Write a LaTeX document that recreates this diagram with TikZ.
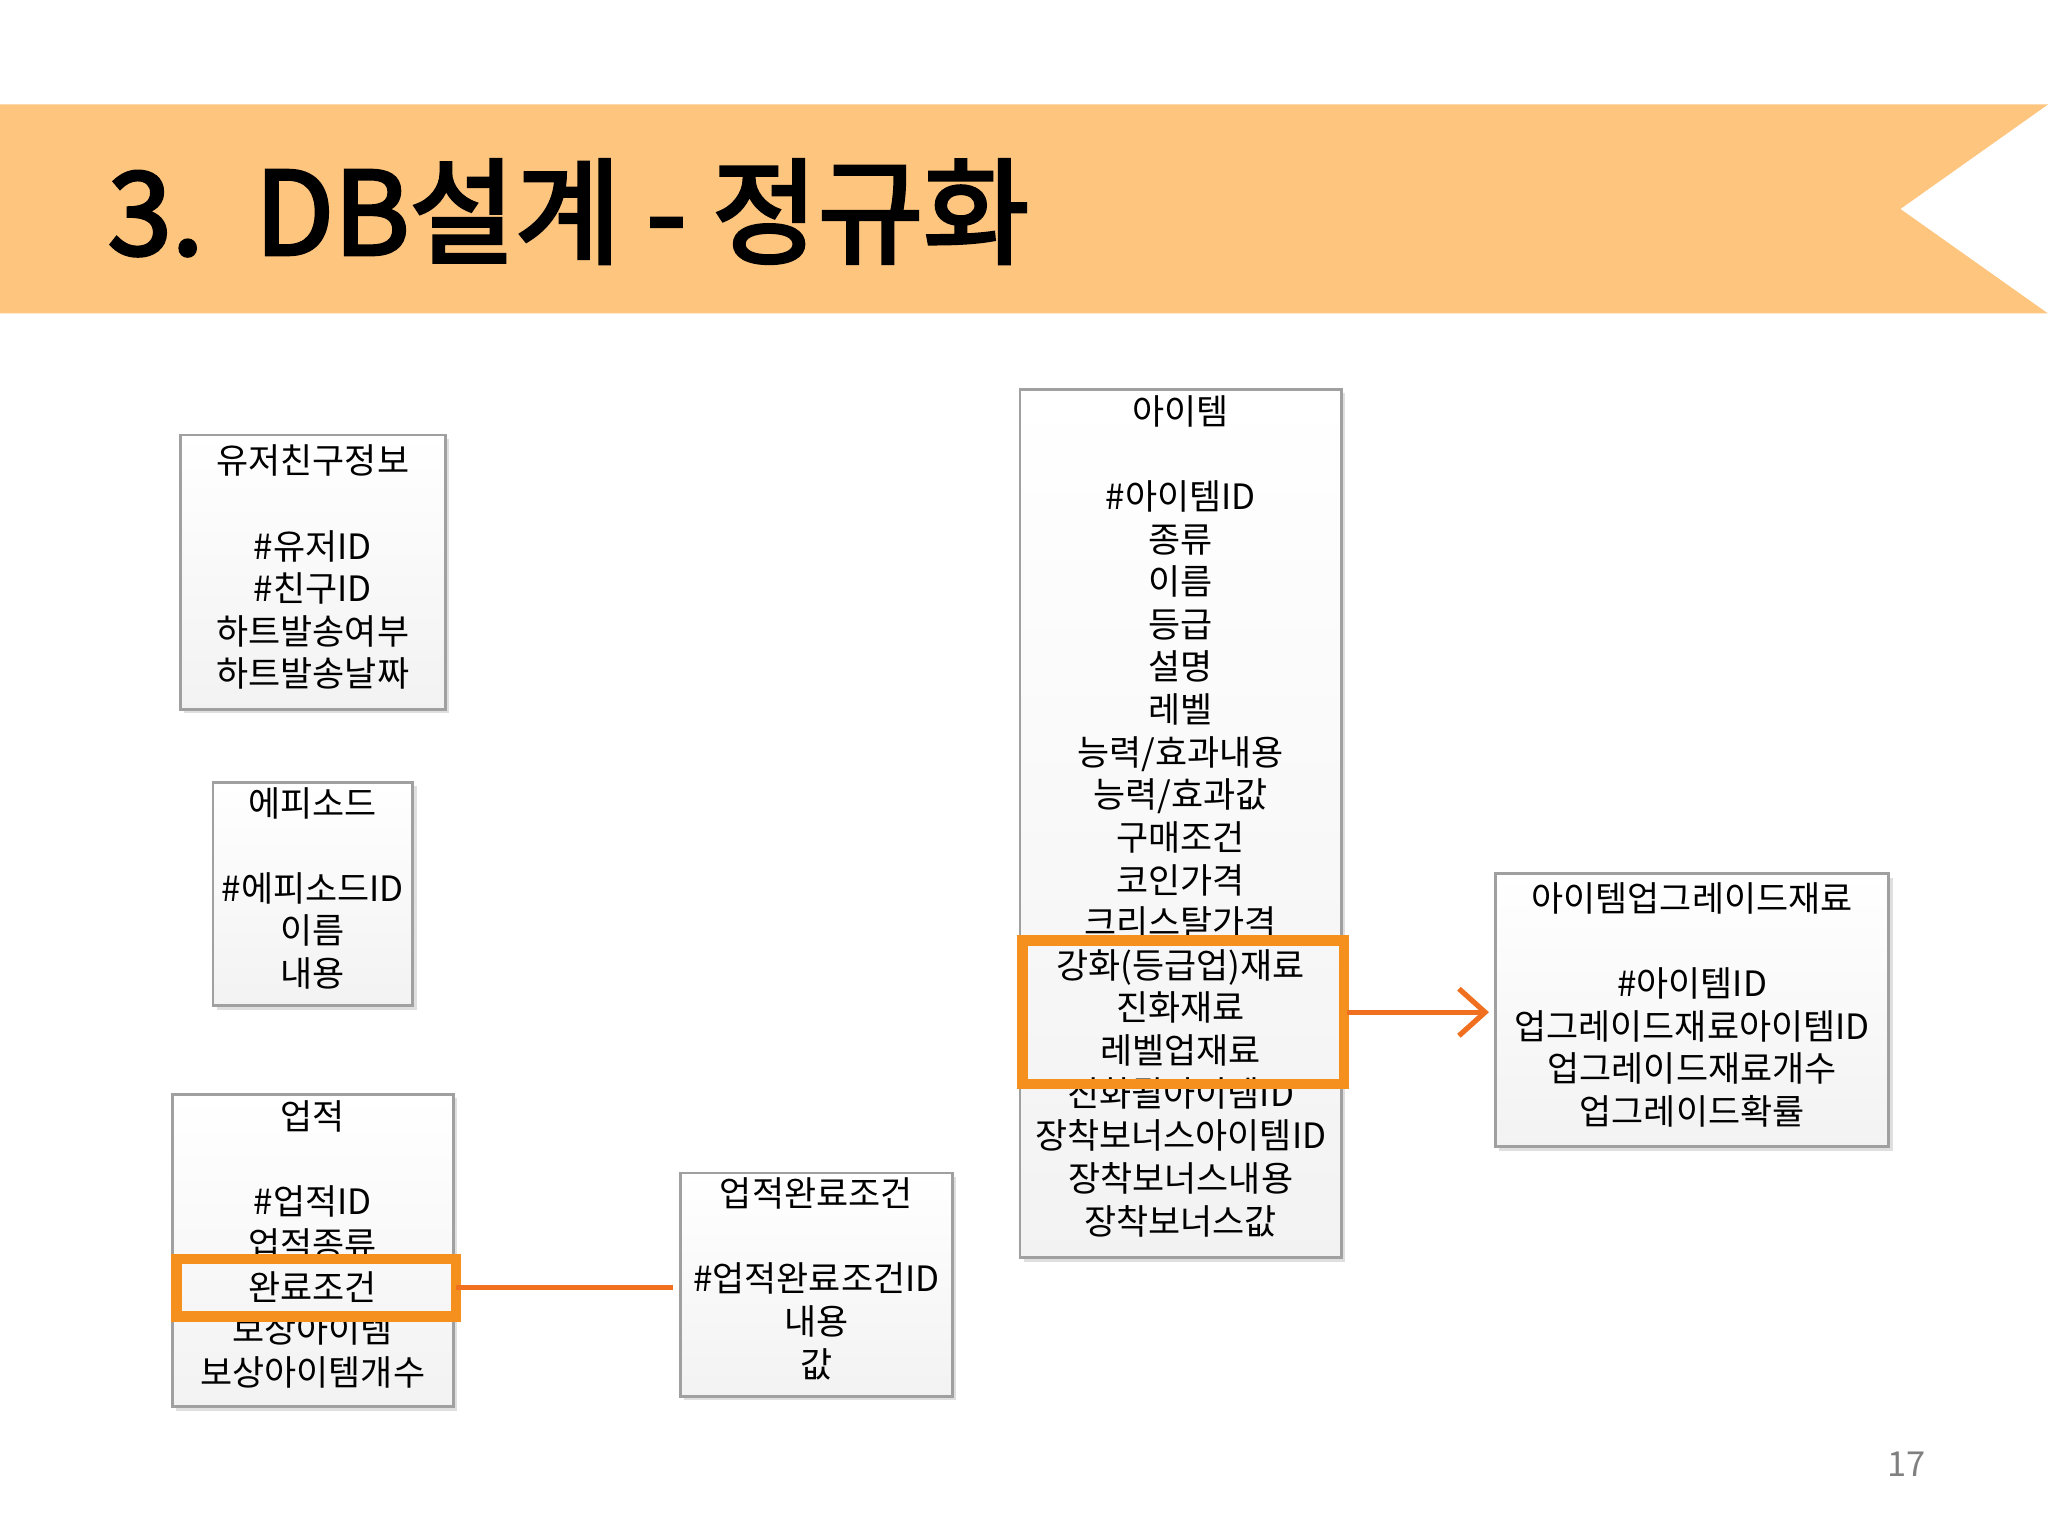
\documentclass[tikz,border=0pt]{standalone}
\usepackage{fontspec}
\usetikzlibrary{arrows.meta}
\setmainfont{Noto Sans CJK KR}
\newfontfamily\krb[FakeBold=3]{Noto Sans CJK KR}
\definecolor{banner}{HTML}{FDC57E}
\definecolor{hl}{HTML}{F5901E}
\definecolor{arr}{HTML}{F07020}
\definecolor{bord}{HTML}{A0A0A0}
\begin{document}
\begin{tikzpicture}[x=0.01cm,y=-0.01cm,
  dbox/.style={draw=bord,line width=0.6pt,top color=white,bottom color=gray!10},
  dtext/.style={anchor=north,inner sep=0pt,align=center,font=\fontsize{7.6}{9.28}\selectfont},
  hlbox/.style={draw=hl,line width=0.08cm},
  shadowc/.style={fill=gray!25}]
\useasboundingbox (0,0) rectangle (1568,1176);
\fill[banner] (0,80) -- (1568,80) -- (1455,160) -- (1568,240) -- (0,240) -- cycle;
\node[anchor=west,inner sep=0pt,font=\krb\fontsize{25}{30}\selectfont] (title) at (82,162) {3.\ \ DB설계 - 정규화};
% shadows
\foreach \a/\b/\c/\d in {138/333/341/543,163/599/316/770,132/838/347/1077,521/898/729/1069,781/298/1027/963,1145/669/1446/878}
  \fill[shadowc] (\a+3,\b+3) rectangle (\c+3,\d+3);
\draw[dbox] (138,333) rectangle (341,543);
\node[dtext] (b1) at (239.5,340) {유저친구정보\\ \\ \#유저ID\\ \#친구ID\\ 하트발송여부\\ 하트발송날짜};
\draw[dbox] (163,599) rectangle (316,770);
\node[dtext] (b2) at (239.5,602) {에피소드\\ \\ \#에피소드ID\\ 이름\\ 내용};
\draw[dbox] (132,838) rectangle (347,1077);
\node[dtext] (b3) at (239.5,842) {업적\\ \\ \#업적ID\\ 업적종류\\ 완료조건\\ 보상아이템\\ 보상아이템개수};
\draw[dbox] (521,898) rectangle (729,1069);
\node[dtext] (b4) at (625,901) {업적완료조건\\ \\ \#업적완료조건ID\\ 내용\\ 값};
\draw[dbox] (781,298) rectangle (1027,963);
\node[dtext] (b5) at (904,302) {아이템\\ \\ \#아이템ID\\ 종류\\ 이름\\ 등급\\ 설명\\ 레벨\\ 능력/효과내용\\ 능력/효과값\\ 구매조건\\ 코인가격\\ 크리스탈가격\\ 강화(등급업)재료\\ 진화재료\\ 레벨업재료\\ 진화될아이템ID\\ 장착보너스아이템ID\\ 장착보너스내용\\ 장착보너스값};
\draw[dbox] (1145,669) rectangle (1446,878);
\node[dtext] (b6) at (1295.5,675) {아이템업그레이드재료\\ \\ \#아이템ID\\ 업그레이드재료아이템ID\\ 업그레이드재료개수\\ 업그레이드확률};
% highlights
\draw[hlbox] (135,964) rectangle (349,1008);
\coordinate (h1) at (349,986);
\coordinate (c1) at (515,986);
\draw[arr,line width=0.04cm] (h1) -- (c1);
\draw[hlbox] (783,720) rectangle (1029,830);
\coordinate (h2) at (1031,775);
\coordinate (c2) at (1140,775);
\draw[arr,line width=0.04cm,-{Straight Barb[length=0.2cm,width=0.36cm,line width=0.04cm]}] (h2) -- (c2);
\node[text=gray,font=\fontsize{7.5}{9}\selectfont] (pg) at (1460,1121) {17};
\end{tikzpicture}
\end{document}
